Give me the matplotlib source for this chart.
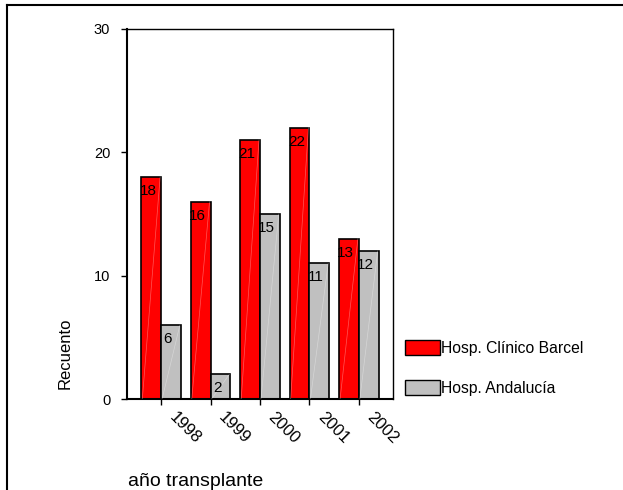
import matplotlib.pyplot as plt
from matplotlib.lines import Line2D
from matplotlib.patches import Patch
import numpy as np

plt.rcParams["font.family"] = ["Liberation Sans", "DejaVu Sans"]

years = ["1998", "1999", "2000", "2001", "2002"]
barcelona = [18, 16, 21, 22, 13]
andalucia = [6, 2, 15, 11, 12]
series_names = ["Hosp. Clínico Barcel", "Hosp. Andalucía"]
colors = ["#ff0000", "#c0c0c0"]

fig = plt.figure(figsize=(6.23, 4.9), dpi=100)
W, H = 623, 490
ax = fig.add_axes([127 / W, 1 - 399 / H, 266 / W, 370 / H])

x = np.arange(len(years))
width = 0.4
for offset, vals, col in [(-width, barcelona, colors[0]), (0, andalucia, colors[1])]:
    bars = ax.bar(x + offset, vals, width, align="edge", color=col,
                  edgecolor="black", linewidth=1.2, zorder=2)
    for b, v in zip(bars, vals):
        x0 = b.get_x()
        # faint sheen line across each bar
        ax.plot([x0 + 0.05 * width, x0 + 0.95 * width], [0, v], color="white",
                lw=0.5, alpha=0.35, zorder=3)
        ax.annotate(str(v), (x0, v), xytext=(4.8, -10), textcoords="offset points",
                    ha="center", va="center", fontsize=11, zorder=4)

ax.set_xlim(-0.69, len(years) - 1 + 0.69)
ax.set_ylim(0, 30)
ax.set_yticks([0, 10, 20, 30])
ax.set_xticks(x)
ax.set_xticklabels([])
for xi, yr in zip(x, years):
    ax.annotate(yr, (xi, 0), xycoords=("data", "axes fraction"),
                xytext=(11.5, -7.5), textcoords="offset points",
                rotation=-45, rotation_mode="anchor", ha="left", va="top",
                fontsize=12)
ax.tick_params(axis="y", labelsize=10.5, length=4, width=1, pad=8)
ax.tick_params(axis="x", length=4, width=1)
for s in ax.spines.values():
    s.set_linewidth(1.0)
ax.spines["left"].set_linewidth(1.5)
ax.spines["bottom"].set_linewidth(1.5)

fig.text(65 / W, 1 - 353 / H, "Recuento", rotation=90, ha="center", va="center",
         fontsize=12)
fig.text(128 / W, 1 - 481 / H, "año transplante", ha="left", va="center", fontsize=14)

handles = [Patch(facecolor=c, edgecolor="black", linewidth=1.0) for c in colors]
fig.legend(handles, series_names, loc="upper left", bbox_to_anchor=(405 / W, 1 - 340 / H),
           frameon=False, fontsize=11.3, handlelength=2.23, handleheight=1.1,
           handletextpad=0.05, labelspacing=1.52, borderaxespad=0, borderpad=0)

# outer frame: top and left edges only
fig.add_artist(Line2D([7 / W, 1], [1 - 5 / H, 1 - 5 / H], color="black", lw=1.5,
                      transform=fig.transFigure))
fig.add_artist(Line2D([7 / W, 7 / W], [0, 1 - 5 / H], color="black", lw=1.5,
                      transform=fig.transFigure))

fig.savefig("out.png", dpi=100)
